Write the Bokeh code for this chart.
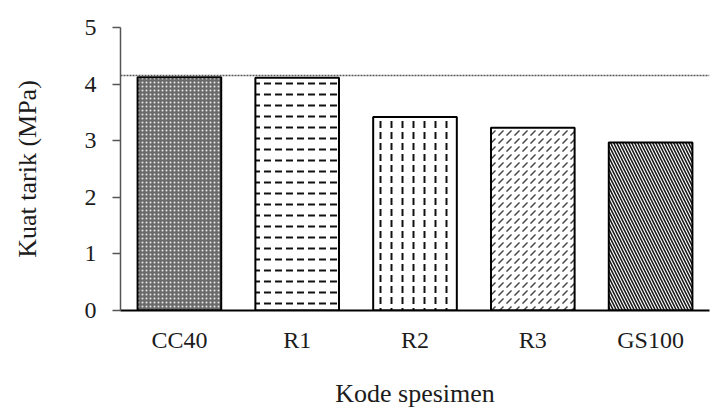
from bokeh.plotting import figure
from bokeh.models import ColumnDataSource, Span
from bokeh.embed import file_html
from bokeh.resources import INLINE

# ---- data ----
categories = ["CC40", "R1", "R2", "R3", "GS100"]
values = [4.12, 4.11, 3.42, 3.23, 2.97]
reference_level = 4.15
y_ticks = [0, 1, 2, 3, 4, 5]

# ---- styles (separate from data) ----
fills = ["#6a6a6a", "white", "white", "white", "white"]
hatches = ["dot", "horizontal_dash", "vertical_dash", "right_diagonal_dash", "left_diagonal_line"]
hatch_colors = ["#e8e8e8", "#111111", "#111111", "#444444", "#1a1a1a"]
hatch_scales = [4, 11, 11, 8, 6]
hatch_weights = [1, 2, 2, 1.5, 1.6]

src = ColumnDataSource(dict(cat=categories, val=values, fill=fills,
                            hatch=hatches, hcol=hatch_colors,
                            hscale=hatch_scales, hweight=hatch_weights))

FONT = "Liberation Serif"
TXT = "#1c1c1c"

p = figure(x_range=categories, y_range=(0, 5), width=710, height=410,
           output_backend="svg", toolbar_location=None,
           min_border_left=120, min_border_right=1, min_border_top=27,
           min_border_bottom=10)
p.outline_line_color = None
p.xgrid.grid_line_color = None
p.ygrid.grid_line_color = None
p.x_range.range_padding = 0.0

p.vbar(x="cat", top="val", width=0.71, source=src, fill_color="fill",
       line_color="black", line_width=2, hatch_pattern="hatch",
       hatch_color="hcol", hatch_scale="hscale", hatch_weight="hweight")

p.add_layout(Span(location=reference_level, dimension="width",
                  line_color="#555555", line_dash="2 1", line_width=1.5))

# y axis
p.yaxis.ticker = y_ticks
p.yaxis.axis_line_color = "#555555"
p.yaxis.axis_line_width = 1.5
p.yaxis.major_tick_line_color = "#555555"
p.yaxis.major_tick_line_width = 1.5
p.yaxis.major_tick_out = 8
p.yaxis.major_tick_in = 0
p.yaxis.minor_tick_line_color = None
p.yaxis.major_label_text_font = FONT
p.yaxis.major_label_text_font_size = "24px"
p.yaxis.major_label_text_color = TXT
p.yaxis.major_label_standoff = 16
p.yaxis.axis_label = "Kuat tarik (MPa)"
p.yaxis.axis_label_text_font = FONT
p.yaxis.axis_label_text_font_size = "26px"
p.yaxis.axis_label_text_font_style = "normal"
p.yaxis.axis_label_text_color = TXT
p.yaxis.axis_label_standoff = 40

# x axis
p.xaxis.axis_line_color = "black"
p.xaxis.axis_line_width = 2
p.xaxis.major_tick_line_color = None
p.xaxis.minor_tick_line_color = None
p.xaxis.major_label_text_font = FONT
p.xaxis.major_label_text_font_size = "24px"
p.xaxis.major_label_text_color = TXT
p.xaxis.major_label_standoff = 10
p.xaxis.axis_label = "Kode spesimen"
p.xaxis.axis_label_text_font = FONT
p.xaxis.axis_label_text_font_size = "26px"
p.xaxis.axis_label_text_font_style = "normal"
p.xaxis.axis_label_text_color = TXT
p.xaxis.axis_label_standoff = 23

open("out.html", "w").write(file_html(p, INLINE))
